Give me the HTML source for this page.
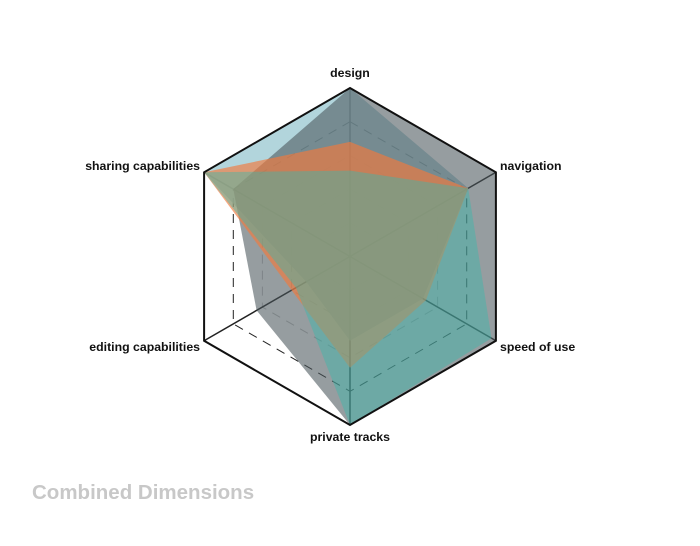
<!DOCTYPE html>
<html><head><meta charset="utf-8"><style>
body{margin:0;background:#fff;width:700px;height:541px;overflow:hidden;font-family:"Liberation Sans",sans-serif}
svg text{font-family:"Liberation Sans",sans-serif}
</style></head><body>
<svg id="chart" width="700" height="541" viewBox="0 0 700 541"></svg>
<script>
const axes = ["design","navigation","speed of use","private tracks","editing capabilities","sharing capabilities"];
const seriesNames = ["light-blue","grey","orange","teal"];
const lightBlue = [1.0, 0.81, 0.5, 0.5, 0.3, 1.0];
const grey = [1.0, 1.0, 1.0, 1.0, 0.64, 0.8];
const orange = [0.68, 0.81, 0.52, 0.66, 0.4, 1.0];
const teal = [0.51, 0.81, 0.97, 1.0, 0.37, 1.0];
const gridLevels = [0.2, 0.4, 0.6, 0.8];

const NS="http://www.w3.org/2000/svg";
const svg=document.getElementById('chart');
const cx=350, cy=256.5, R=168.5;
function pt(i,v){const a=-Math.PI/2+i*Math.PI/3;return [cx+R*v*Math.cos(a), cy+R*v*Math.sin(a)];}
function poly(vals){return vals.map((v,i)=>pt(i,v).map(n=>n.toFixed(1)).join(',')).join(' ');}
function mk(tag,attrs){const e=document.createElementNS(NS,tag);for(const k in attrs)e.setAttribute(k,attrs[k]);svg.appendChild(e);return e;}

gridLevels.forEach((l,k)=>{
  const g=mk('polygon',{points:poly(axes.map(()=>l)),fill:'none',stroke:l===0.8?'#222':'#888','stroke-width':1,'stroke-dasharray':'9,7',opacity:l===0.8?1:0.5});
  
  
});
axes.forEach((a,i)=>{
  const p=pt(i,1);
  const s=mk('line',{x1:cx,y1:cy,x2:p[0],y2:p[1],stroke:'#222','stroke-width':1.5});
  
  
});
const styles=[['#9fcad3',0.8],['#4a565c',0.58],['#f27a3c',0.65],['#3cb8aa',0.45]];
[lightBlue,grey,orange,teal].forEach((vals,k)=>{
  const p=mk('polygon',{points:poly(vals),fill:styles[k][0],'fill-opacity':styles[k][1],stroke:'none'});
  
  
});
const outer=mk('polygon',{points:poly(axes.map(()=>1)),fill:'none',stroke:'#111','stroke-width':2});



const labelPos=[[350,77,'middle'],[500,170,'start'],[500,351,'start'],[350,441,'middle'],[200,351,'end'],[200,170,'end']];
axes.forEach((a,i)=>{
  const t=mk('text',{x:labelPos[i][0],y:labelPos[i][1],'text-anchor':labelPos[i][2],'font-size':12.3,'font-weight':'bold',fill:'#111'});
  t.textContent=a;
  
  
});
const title=mk('text',{x:32,y:499,'font-size':20.5,'font-weight':'bold',fill:'#c8c8c8'});
title.textContent='Combined Dimensions';


</script>
</body></html>
